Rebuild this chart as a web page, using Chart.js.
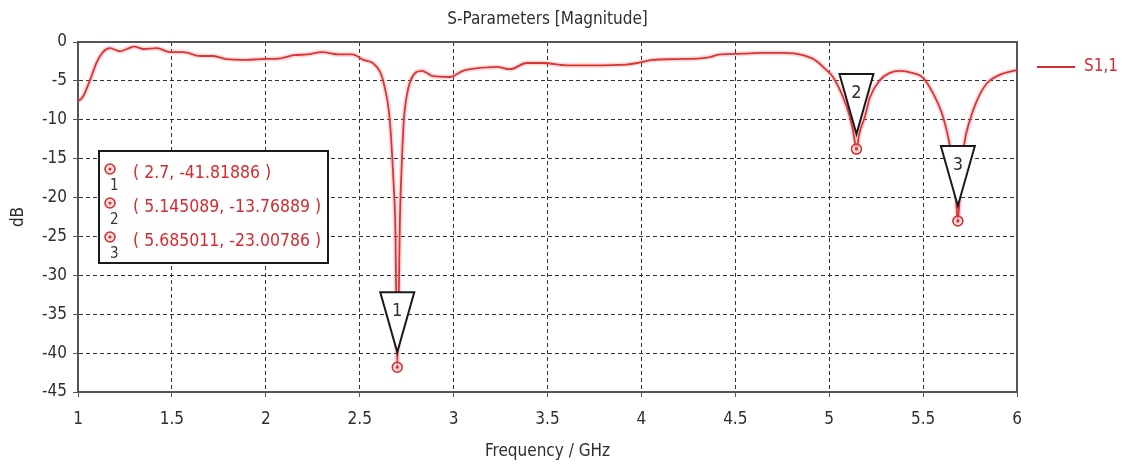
<!DOCTYPE html>
<html>
<head>
<meta charset="utf-8">
<script src="https://cdn.jsdelivr.net/npm/chart.js@4"></script>
<style>
  body { margin: 0; background: #fff; }
  #wrap { width: 1122px; height: 466px; position: relative; }
</style>
</head>
<body>
<div id="wrap"><canvas id="sparam"></canvas></div>
<script>
// S11 magnitude (GHz, dB)
const freq = [1.0, 1.027, 1.064, 1.1, 1.133, 1.17, 1.224, 1.26, 1.30, 1.35, 1.42, 1.49, 1.56, 1.65, 1.72,
  1.79, 1.9, 1.97, 2.08, 2.15, 2.22, 2.30, 2.39, 2.46, 2.52, 2.57, 2.61, 2.63, 2.66, 2.68, 2.69, 2.70,
  2.715, 2.725, 2.735, 2.75, 2.77, 2.80, 2.832, 2.89, 2.98, 3.05, 3.12, 3.23, 3.30, 3.39, 3.48, 3.60,
  3.74, 3.92, 3.98, 4.06, 4.19, 4.35, 4.42, 4.54, 4.63, 4.75, 4.86, 4.93, 4.98, 5.02, 5.074, 5.11, 5.13,
  5.145, 5.16, 5.19, 5.217, 5.27, 5.32, 5.377, 5.446, 5.5, 5.553, 5.606, 5.633, 5.66, 5.675, 5.685,
  5.70, 5.72, 5.75, 5.787, 5.84, 5.91, 6.0];
const s11 = [-7.65, -7.0, -4.9, -2.6, -1.3, -0.8, -1.2, -0.9, -0.6, -0.9, -0.8, -1.3, -1.3, -1.8, -1.8,
  -2.2, -2.3, -2.2, -2.1, -1.7, -1.6, -1.3, -1.6, -1.6, -2.3, -2.7, -3.9, -5.5, -10, -18, -24, -41.81886,
  -22, -15, -10, -7, -5, -3.9, -3.7, -4.4, -4.5, -3.7, -3.4, -3.2, -3.5, -2.7, -2.7, -3.0,
  -3.0, -2.9, -2.7, -2.3, -2.2, -2.0, -1.6, -1.5, -1.4, -1.4, -1.7, -2.4, -3.5, -4.5, -7.1, -9.6, -11.8,
  -13.76889, -11.8, -9.6, -7.1, -4.9, -4.0, -3.7, -4.0, -4.6, -6.6, -9.6, -12.2, -16, -20, -23.00786,
  -18, -13, -10, -7.5, -5.3, -4.2, -3.6];

// markers 1..3
const markerFreq = [2.7, 5.145089, 5.685011];
const markerDb = [-41.81886, -13.76889, -23.00786];
const markerNames = ['1', '2', '3'];

const xTicks = [1, 1.5, 2, 2.5, 3, 3.5, 4, 4.5, 5, 5.5, 6];
const yTicks = [0, -5, -10, -15, -20, -25, -30, -35, -40, -45];

const FONT = '"DejaVu Sans Condensed", "DejaVu Sans", sans-serif';
const RED = '#d52a2e';
const TXT = '#2e2e2e';

const points = freq.map((f, i) => ({ x: f, y: s11[i] }));

function drawRing(ctx, cx, cy) {
  ctx.beginPath();
  ctx.arc(cx, cy, 5, 0, Math.PI * 2);
  ctx.fillStyle = 'rgba(255,200,200,0.6)';
  ctx.fill();
  ctx.lineWidth = 1.5;
  ctx.strokeStyle = RED;
  ctx.stroke();
  ctx.beginPath();
  ctx.arc(cx, cy, 1.5, 0, Math.PI * 2);
  ctx.fillStyle = RED;
  ctx.fill();
}

const markerPlugin = {
  id: 'markers',
  afterDatasetsDraw(chart) {
    const { ctx, scales: { x, y } } = chart;
    ctx.save();
    markerFreq.forEach((f, i) => {
      const px = x.getPixelForValue(f);
      const py = y.getPixelForValue(markerDb[i]);
      // triangle pointing down, apex just above the point
      const apex = py - 15;
      ctx.beginPath();
      ctx.moveTo(px - 17, apex - 60);
      ctx.lineTo(px + 17, apex - 60);
      ctx.lineTo(px, apex);
      ctx.closePath();
      ctx.fillStyle = '#fff';
      ctx.fill();
      ctx.lineWidth = 2;
      ctx.strokeStyle = '#1a1a1a';
      ctx.stroke();
      ctx.fillStyle = TXT;
      ctx.font = '18px ' + FONT;
      ctx.textAlign = 'center';
      ctx.textBaseline = 'middle';
      ctx.fillText(markerNames[i], px, apex - 41);
      drawRing(ctx, px, py);
    });
    ctx.restore();
  }
};

const overlayPlugin = {
  id: 'overlay',
  beforeDatasetsDraw(chart) {
    const { ctx, chartArea: a } = chart;
    ctx.save();
    ctx.strokeStyle = '#555';
    ctx.lineWidth = 2;
    ctx.strokeRect(a.left, a.top, a.right - a.left, a.bottom - a.top);
    ctx.restore();
  },
  afterDraw(chart) {
    const { ctx, chartArea: a } = chart;
    ctx.save();
    // marker readout box
    ctx.fillStyle = '#fff';
    ctx.fillRect(99, 151, 229, 112);
    ctx.strokeStyle = '#1a1a1a';
    ctx.lineWidth = 2;
    ctx.strokeRect(99, 151, 229, 112);
    markerFreq.forEach((f, i) => {
      const rowY = 173 + i * 34;
      drawRing(ctx, 110, rowY - 4);
      ctx.fillStyle = '#2b3b2b';
      ctx.font = '15px ' + FONT;
      ctx.textAlign = 'left';
      ctx.textBaseline = 'middle';
      ctx.fillText(markerNames[i], 110, rowY + 13);
      ctx.fillStyle = RED;
      ctx.font = '17.5px ' + FONT;
      ctx.fillText('( ' + f + ', ' + markerDb[i] + ' )', 133, rowY);
    });
    // series legend on the right
    ctx.strokeStyle = RED;
    ctx.lineWidth = 2;
    ctx.beginPath();
    ctx.moveTo(1037, 67);
    ctx.lineTo(1075, 67);
    ctx.stroke();
    ctx.fillStyle = RED;
    ctx.font = '17px ' + FONT;
    ctx.textAlign = 'left';
    ctx.textBaseline = 'middle';
    ctx.fillText('S1,1', 1084, 67);
    // x axis title
    ctx.fillStyle = TXT;
    ctx.textAlign = 'center';
    ctx.fillText('Frequency / GHz', (a.left + a.right) / 2, 452);
    ctx.restore();
  }
};

new Chart(document.getElementById('sparam'), {
  type: 'line',
  data: {
    datasets: [
      {
        label: 'glow',
        data: points,
        borderColor: 'rgba(235, 90, 90, 0.22)',
        borderWidth: 5,
        pointRadius: 0,
        cubicInterpolationMode: 'monotone'
      },
      {
        label: 'S1,1',
        data: points,
        borderColor: RED,
        borderWidth: 1.8,
        pointRadius: 0,
        cubicInterpolationMode: 'monotone'
      }
    ]
  },
  options: {
    responsive: true,
    maintainAspectRatio: false,
    animation: false,
    layout: { padding: { top: 0, right: 105, bottom: 0, left: 0 } },
    plugins: {
      legend: { display: false },
      tooltip: { enabled: false },
      title: {
        display: true,
        text: 'S-Parameters [Magnitude]',
        fullSize: false,
        color: TXT,
        font: { family: FONT, size: 17, weight: 'normal', lineHeight: 1.2 },
        padding: { top: 9, bottom: 12.6 }
      }
    },
    scales: {
      x: {
        type: 'linear',
        min: 1,
        max: 6,
        afterFit: s => { s.height = 74; },
        afterBuildTicks: s => { s.ticks = xTicks.map(v => ({ value: v })); },
        ticks: { color: TXT, padding: 12, font: { family: FONT, size: 17 }, callback: v => String(v) },
        grid: { color: '#333', lineWidth: 1, tickLength: 5, tickColor: '#555' },
        border: { color: '#555', width: 2, dash: [4, 3] }
      },
      y: {
        min: -45,
        max: 0,
        afterFit: s => { s.width = 78; },
        afterBuildTicks: s => { s.ticks = yTicks.map(v => ({ value: v })); },
        ticks: { color: TXT, padding: 6, font: { family: FONT, size: 17 }, callback: v => String(v) },
        grid: { color: '#333', lineWidth: 1, tickLength: 5, tickColor: '#555' },
        border: { color: '#555', width: 2, dash: [4, 3] },
        title: { display: true, text: 'dB', color: TXT, padding: { top: 8, bottom: 0 }, font: { family: FONT, size: 17 } }
      }
    }
  },
  plugins: [markerPlugin, overlayPlugin]
});
</script>
</body>
</html>
